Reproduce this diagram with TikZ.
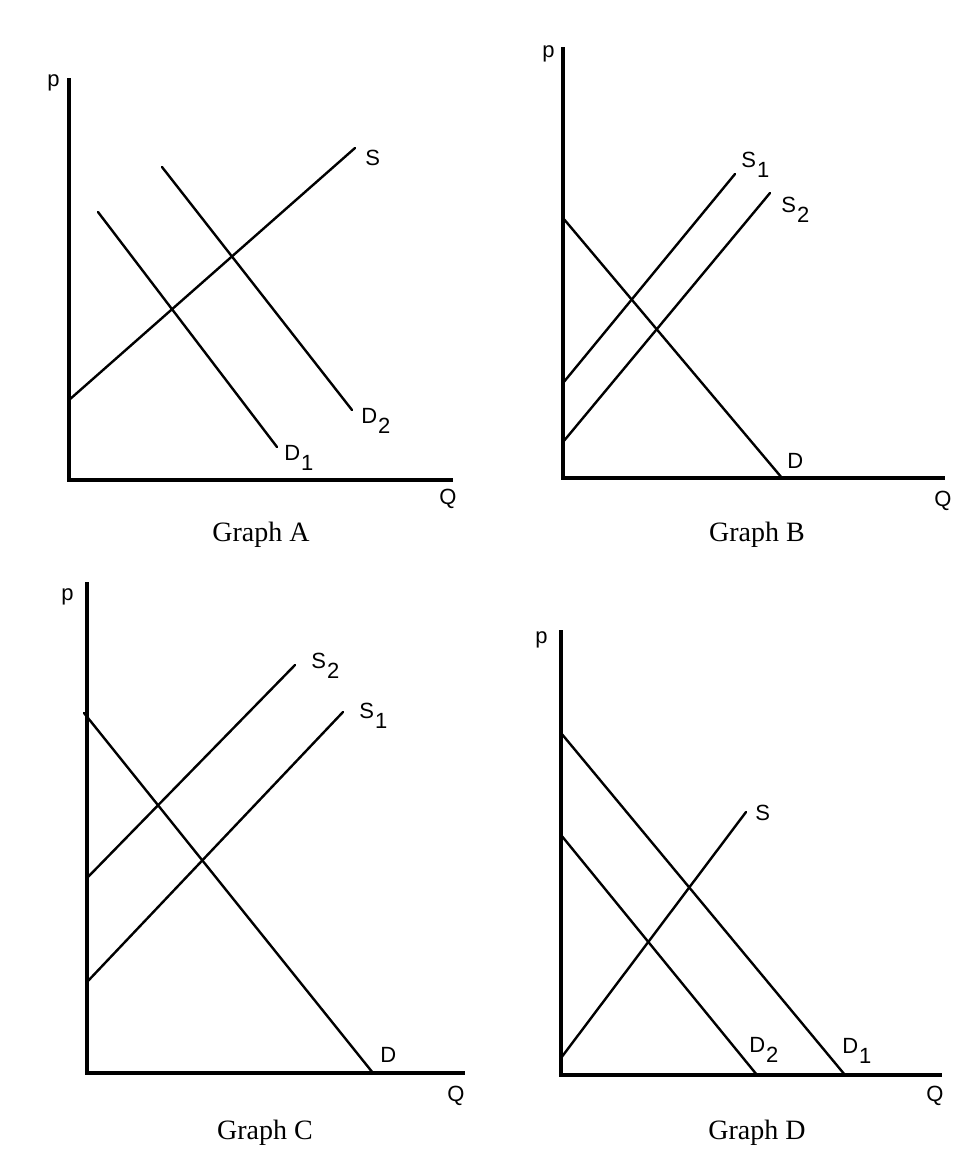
\documentclass[tikz,border=0pt]{standalone}
\usepackage{fontspec}
\setmainfont{Liberation Serif}
\newfontfamily\lblfont{Liberation Sans}
\newcommand\lowsub[1]{\kern0.8pt\raisebox{-7.5pt}{#1}}
\begin{document}
\begin{tikzpicture}[x=0.75pt,y=-0.75pt,
  axisline/.style={line width=2.4pt,line join=miter},
  curve/.style={line width=1.8pt,line cap=round},
  lbl/.style={anchor=base west,inner sep=0pt,font=\lblfont\fontsize{16.5}{19}\selectfont},
  caption/.style={anchor=center,inner sep=0pt,font=\fontsize{21}{25}\selectfont}]
\useasboundingbox[fill=white] (0,0) rectangle (968,1154);

% ---------- Graph A ----------
\coordinate (Atop) at (69,78);
\coordinate (Aorg) at (69,480);
\coordinate (Aend) at (453,480);
\draw[axisline] (Atop) -- (Aorg) -- (Aend);
\coordinate (AS0) at (69,400);   \coordinate (AS1) at (355,148);
\coordinate (AD1a) at (98,212);  \coordinate (AD1b) at (277,447);
\coordinate (AD2a) at (162,167); \coordinate (AD2b) at (352,410);
\draw[curve] (AS0) -- (AS1);
\draw[curve] (AD1a) -- (AD1b);
\draw[curve] (AD2a) -- (AD2b);
\node[lbl] (Ap) at (47,86) {p};
\node[lbl] (AQ) at (439,504) {Q};
\node[lbl] (ASl) at (365,165) {S};
\node[lbl] (AD1l) at (284,460) {D\lowsub{1}};
\node[lbl] (AD2l) at (361,423) {D\lowsub{2}};
\node[caption] (Acap) at (261,535) {Graph A};

% ---------- Graph B ----------
\coordinate (Btop) at (563,47);
\coordinate (Borg) at (563,478);
\coordinate (Bend) at (945,478);
\draw[axisline] (Btop) -- (Borg) -- (Bend);
\coordinate (BDa) at (563,218);  \coordinate (BDb) at (782,478);
\coordinate (BS1a) at (563,383); \coordinate (BS1b) at (735,174);
\coordinate (BS2a) at (563,442); \coordinate (BS2b) at (770,193);
\draw[curve] (BDa) -- (BDb);
\draw[curve] (BS1a) -- (BS1b);
\draw[curve] (BS2a) -- (BS2b);
\node[lbl] (Bp) at (542,57) {p};
\node[lbl] (BQ) at (934,506) {Q};
\node[lbl] (BS1l) at (741,167) {S\lowsub{1}};
\node[lbl] (BS2l) at (781,212) {S\lowsub{2}};
\node[lbl] (BDl) at (787,468) {D};
\node[caption] (Bcap) at (757,535) {Graph B};

% ---------- Graph C ----------
\coordinate (Ctop) at (87,582);
\coordinate (Corg) at (87,1073);
\coordinate (Cend) at (465,1073);
\draw[axisline] (Ctop) -- (Corg) -- (Cend);
\coordinate (CDa) at (84,713);   \coordinate (CDb) at (373,1073);
\coordinate (CS2a) at (87,878);  \coordinate (CS2b) at (295,665);
\coordinate (CS1a) at (87,982);  \coordinate (CS1b) at (343,712);
\draw[curve] (CDa) -- (CDb);
\draw[curve] (CS2a) -- (CS2b);
\draw[curve] (CS1a) -- (CS1b);
\node[lbl] (Cp) at (61,600) {p};
\node[lbl] (CQ) at (447,1101) {Q};
\node[lbl] (CS2l) at (311,668) {S\lowsub{2}};
\node[lbl] (CS1l) at (359,718) {S\lowsub{1}};
\node[lbl] (CDl) at (380,1062) {D};
\node[caption] (Ccap) at (265,1133) {Graph C};

% ---------- Graph D ----------
\coordinate (Dtop) at (561,630);
\coordinate (Dorg) at (561,1075);
\coordinate (Dend) at (942,1075);
\draw[axisline] (Dtop) -- (Dorg) -- (Dend);
\coordinate (DD1a) at (561,733); \coordinate (DD1b) at (845,1075);
\coordinate (DD2a) at (561,835); \coordinate (DD2b) at (757,1075);
\coordinate (DSa) at (561,1058); \coordinate (DSb) at (746,812);
\draw[curve] (DD1a) -- (DD1b);
\draw[curve] (DD2a) -- (DD2b);
\draw[curve] (DSa) -- (DSb);
\node[lbl] (Dp) at (535,643) {p};
\node[lbl] (DQ) at (926,1101) {Q};
\node[lbl] (DSl) at (755,820) {S};
\node[lbl] (DD2l) at (749,1052) {D\lowsub{2}};
\node[lbl] (DD1l) at (842,1053) {D\lowsub{1}};
\node[caption] (Dcap) at (757,1133) {Graph D};
\end{tikzpicture}
\end{document}
